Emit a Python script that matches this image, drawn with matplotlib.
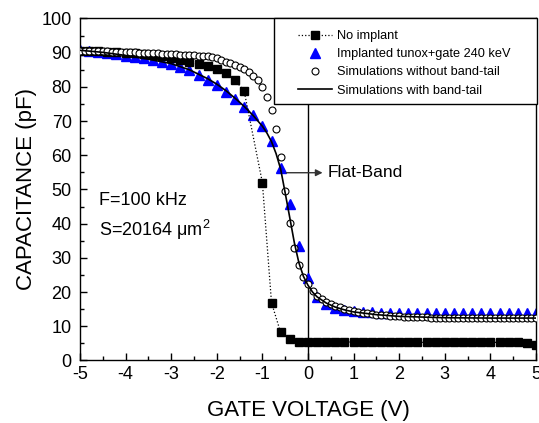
import numpy as np
import matplotlib
matplotlib.use("Agg")
import matplotlib.pyplot as plt
from matplotlib.patches import Rectangle
from matplotlib.ticker import MultipleLocator

plt.rcParams["font.family"] = ["Liberation Sans", "DejaVu Sans"]
plt.rcParams["axes.unicode_minus"] = False
plt.rcParams["mathtext.fontset"] = "custom"
plt.rcParams["mathtext.rm"] = "Liberation Sans"

# measured C-V data (pF)
v_step02 = np.round(np.arange(-5, 5.001, 0.2), 1)
v_step01 = np.round(np.arange(-5, 5.001, 0.1), 1)

# no implant (the -1.2 V point is missing in the original)
v_noimpl = v_step02[v_step02 != -1.2]
c_noimpl = [90.6, 90.5, 90.4, 90.3, 90.2, 90.0, 89.8, 89.6, 89.3, 88.9,
            88.4, 87.8, 87.2, 86.6, 86.0, 85.1, 84.0, 82.0, 78.8,
            52.0, 16.9, 8.2, 6.4, 5.4,
            5.4, 5.4, 5.4, 5.4, 5.4, 5.4, 5.4, 5.3, 5.3, 5.3, 5.3, 5.3,
            5.3, 5.3, 5.3, 5.3, 5.3, 5.3, 5.3, 5.3, 5.3, 5.3, 5.3, 5.3,
            5.0, 4.5]

# implanted tunox + gate 240 keV
v_impl = v_step02
c_impl = [90.7, 90.5, 90.2, 89.9, 89.5, 89.1, 88.7, 88.3, 87.9, 87.4,
          86.7, 85.9, 84.8, 83.6, 82.1, 80.5, 78.5, 76.4, 74.2, 71.7,
          68.7, 64.3, 56.2, 45.7, 33.5,
          24.0, 18.7, 16.5, 15.4, 14.8, 14.5, 14.3, 14.1, 14.0, 14.0,
          14.0, 14.0, 14.0, 14.0, 14.0, 14.0, 14.0, 14.0, 14.0, 14.0,
          14.0, 14.0, 14.0, 14.0, 14.0, 14.0]

# simulation without band-tail
v_sim_nobt = v_step01
c_sim_nobt = [90.6, 90.6, 90.5, 90.5, 90.5, 90.4, 90.4, 90.3, 90.3, 90.2,
              90.2, 90.1, 90.1, 90.0, 90.0, 89.9, 89.9, 89.8, 89.7, 89.7,
              89.6, 89.5, 89.4, 89.3, 89.3, 89.2, 89.1, 89.0, 88.9, 88.7,
              88.4, 87.9, 87.4, 86.9, 86.4, 85.7, 85.1, 84.3, 83.3, 82.0,
              79.9, 77.1, 73.2, 67.6, 59.4, 49.5, 40.1, 32.8, 27.9, 24.5,
              22.3, 20.3, 18.8, 17.9, 17.2, 16.6, 16.0, 15.5, 15.1, 14.8,
              14.5, 14.2, 14.0, 13.8, 13.6, 13.4, 13.3, 13.2, 13.1, 13.0,
              12.9, 12.8, 12.8, 12.7, 12.7, 12.6, 12.6, 12.5, 12.5, 12.4,
              12.4, 12.3, 12.3, 12.3, 12.3, 12.3, 12.3, 12.3, 12.3, 12.3,
              12.3, 12.3, 12.3, 12.3, 12.3, 12.3, 12.3, 12.3, 12.3, 12.3,
              12.3]

# simulation with band-tail
v_sim_bt = [-5.0, -4.5, -4.0, -3.5, -3.0, -2.6, -2.2, -2.0, -1.8, -1.6,
            -1.4, -1.2, -1.0, -0.9, -0.8, -0.7, -0.6, -0.5, -0.4, -0.3,
            -0.2, -0.1, 0.0, 0.1, 0.2, 0.4, 0.6, 0.8, 1.0, 1.5,
            2.0, 3.0, 4.0, 5.0]
c_sim_bt = [90.7, 90.1, 89.2, 88.1, 86.8, 85.0, 82.4, 80.8, 78.9, 76.7,
            74.3, 71.6, 68.5, 66.5, 64.0, 60.5, 56.0, 49.0, 41.8, 34.5,
            28.6, 24.6, 22.0, 20.0, 18.6, 16.8, 15.6, 14.8, 14.2, 13.4,
            12.9, 12.5, 12.4, 12.4]

fig = plt.figure(figsize=(5.39, 4.23), dpi=100)
ax = fig.add_axes([0.1484, 0.1478, 0.846, 0.8085])

ax.axvline(0, color="black", lw=1.0, zorder=1)

ax.plot(v_noimpl, c_noimpl, ls=":", lw=0.9, color="black", marker="s",
        ms=5.3, mfc="black", mec="black", zorder=2.5, label="No implant")
ax.plot(v_impl, c_impl, ls="none", marker="^", ms=6.6, mfc="#0000ff",
        mec="#0000ff", zorder=2, label="Implanted tunox+gate 240 keV")
ax.plot(v_sim_nobt, c_sim_nobt, ls="none", marker="o", ms=5.0, mfc="white",
        mec="black", mew=0.8, zorder=3,
        label="Simulations without band-tail")
ax.plot(v_sim_bt, c_sim_bt, ls="-", lw=1.2, color="black", zorder=4,
        label="Simulations with band-tail")

ax.set_xlim(-5, 5)
ax.set_ylim(0, 100)
ax.xaxis.set_major_locator(MultipleLocator(1))
ax.xaxis.set_minor_locator(MultipleLocator(0.5))
ax.yaxis.set_major_locator(MultipleLocator(10))
ax.yaxis.set_minor_locator(MultipleLocator(5))
ax.tick_params(which="both", direction="in", top=False, right=False,
               labelsize=13, width=1.0)
ax.tick_params(which="major", length=5, pad=4)
ax.tick_params(which="minor", length=3)
ax.tick_params(axis="y", pad=6)
for sp in ax.spines.values():
    sp.set_linewidth(1.0)

ax.set_xlabel("GATE VOLTAGE (V)", fontsize=16, labelpad=12)
ax.set_ylabel("CAPACITANCE (pF)", fontsize=16, labelpad=3)

ax.text(-4.58, 46.9, "F=100 kHz", fontsize=13, va="center", ha="left")
ax.text(-4.58, 38.2, "S=20164 \u03bcm$^2$", fontsize=13, va="center",
        ha="left")

ax.annotate("", xy=(0.32, 54.9), xytext=(-0.48, 54.9),
            arrowprops=dict(arrowstyle="-|>", color="#333333", lw=1.0,
                            mutation_scale=10, shrinkA=0, shrinkB=0),
            zorder=6)
ax.text(0.43, 54.9, "Flat-Band", fontsize=12.5, va="center", ha="left")

# legend box
frame = Rectangle((0.425, 0.75), 0.578, 0.25, transform=ax.transAxes,
                  facecolor="white", edgecolor="black", lw=1.0,
                  clip_on=False, zorder=8)
ax.add_patch(frame)
leg = ax.legend(loc="upper left", bbox_to_anchor=(0.478, 0.966),
                frameon=False, fontsize=9.2, handlelength=2.7,
                handletextpad=0.35, labelspacing=0.48, borderpad=0,
                borderaxespad=0, numpoints=1)
leg.set_zorder(9)

fig.savefig("out.png", dpi=100)
